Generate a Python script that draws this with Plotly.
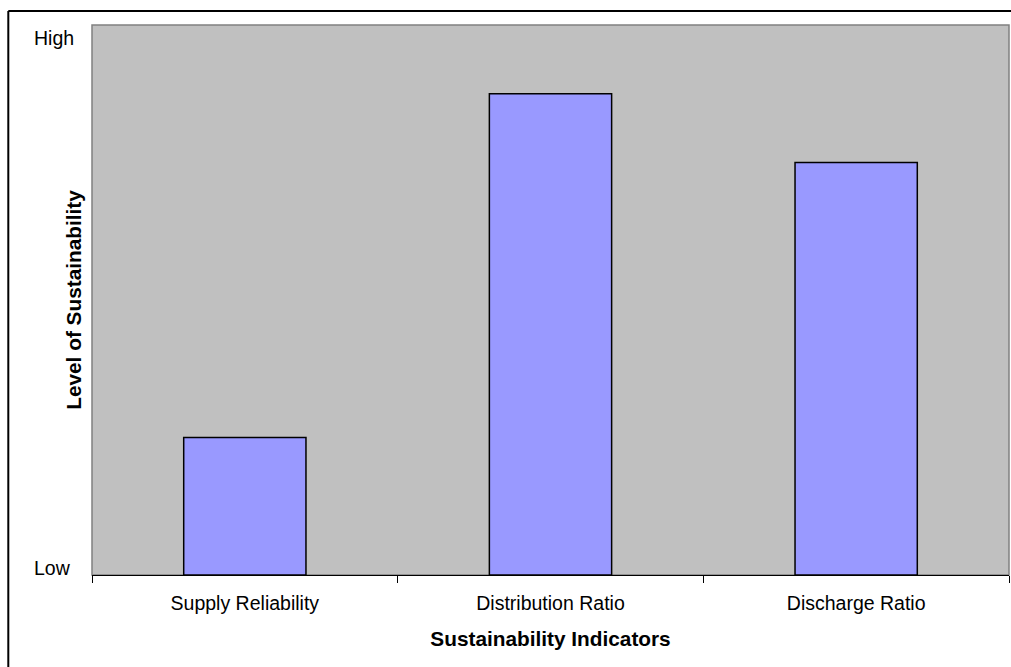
import plotly.graph_objects as go

categories = ["Supply Reliability", "Distribution Ratio", "Discharge Ratio"]
values = [0.25, 0.875, 0.75]
y_tick_vals = [0, 1]
y_tick_text = ["Low", "High"]
x_title = "Sustainability Indicators"
y_title = "Level of Sustainability"

FONT = "Liberation Sans, Arial, sans-serif"

fig = go.Figure(
    go.Bar(
        x=categories,
        y=values,
        width=0.4,
        marker=dict(color="#9999FF", line=dict(color="#000000", width=1.5)),
    )
)

# low/high labels placed at axis values, left aligned as in the original
label_shift = {0: 7, 1: -13}
for v, t in zip(y_tick_vals, y_tick_text):
    fig.add_annotation(
        x=-0.0654, xref="paper", y=v, yref="y",
        text=t, showarrow=False, xanchor="left", yanchor="middle",
        yshift=label_shift[v],
        font=dict(family=FONT, size=19.5, color="#000000"),
    )

fig.update_layout(
    width=1011, height=667,
    margin=dict(l=92, r=2, t=25, b=92),
    paper_bgcolor="#FFFFFF",
    plot_bgcolor="#C0C0C0",
    showlegend=False,
    font=dict(family=FONT, size=19.5, color="#000000"),
    xaxis=dict(
        type="category",
        tickson="boundaries",
        ticks="outside", ticklen=7, tickcolor="#000000", tickwidth=1,
        ticklabelstandoff=11,
        showline=True, linecolor="#000000", linewidth=1,
        showgrid=False, zeroline=False,
        tickfont=dict(family=FONT, size=19.5),
        title=dict(text="<b>" + x_title + "</b>", font=dict(family=FONT, size=20.8), standoff=18),
        range=[-0.5, 2.5],
    ),
    yaxis=dict(
        range=[0, 1],
        tickvals=y_tick_vals,
        showticklabels=False,
        ticks="",
        showgrid=False, zeroline=False, showline=False,
        title=dict(text="<b>" + y_title + "</b>", font=dict(family=FONT, size=20.8), standoff=3),
    ),
    shapes=[
        dict(type="rect", xref="paper", yref="paper", x0=0, x1=1, y0=0, y1=1,
             line=dict(color="#808080", width=1.5), layer="below"),
        dict(type="line", xref="paper", yref="paper", x0=(8.3 - 92) / 917, x1=1.01,
             y0=(575 - 11) / 550, y1=(575 - 11) / 550, line=dict(color="#000000", width=2)),
        dict(type="line", xref="paper", yref="paper", x0=(8.3 - 92) / 917, x1=(8.3 - 92) / 917,
             y0=(575 - 11) / 550, y1=-0.2, line=dict(color="#000000", width=2)),
    ],
)

fig.write_html("out.html")
